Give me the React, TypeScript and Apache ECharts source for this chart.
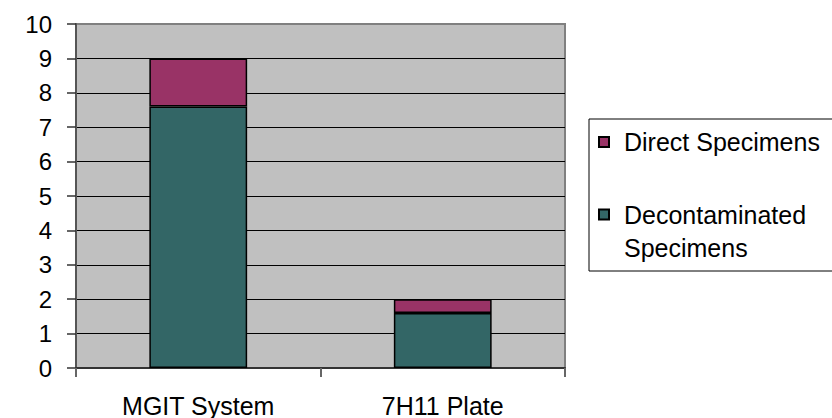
import React, { useEffect, useRef } from "react";
import * as echarts from "echarts";

const categories = ["MGIT System", "7H11 Plate"];
const decontaminated = [7.6, 1.6];
const direct = [1.4, 0.4];
const seriesNames = ["Direct Specimens", "Decontaminated Specimens"];

export default function App() {
  const ref = useRef<HTMLDivElement>(null);
  useEffect(() => {
    if (!ref.current) return;
    const chart = echarts.init(ref.current, undefined, { renderer: "svg" });
    const font = "'Liberation Sans', Arial, sans-serif";
    chart.setOption({
      animation: false,
      backgroundColor: "#ffffff",
      textStyle: { fontFamily: font },
      grid: {
        left: 76,
        right: 267,
        top: 24,
        bottom: 50,
        show: true,
        backgroundColor: "#C0C0C0",
        borderColor: "#808080",
        borderWidth: 2,
      },
      graphic: [
        {
          type: "rect",
          shape: { x: 589, y: 119, width: 260, height: 152 },
          style: { fill: "#ffffff", stroke: "#000000", lineWidth: 1 },
          z: 1,
        },
      ],
      legend: [
        {
          data: [seriesNames[0]],
          left: 598,
          top: 126,
          padding: 0,
          itemWidth: 10,
          itemHeight: 10,
          icon: "rect",
          textStyle: {
            fontFamily: font,
            fontSize: 25,
            color: "#000",
            lineHeight: 32,
            padding: [0, 0, 0, 10],
          },
          z: 5,
        },
        {
          data: [seriesNames[1]],
          left: 598,
          top: 165,
          padding: 0,
          itemWidth: 10,
          itemHeight: 10,
          icon: "rect",
          formatter: () => " \nDecontaminated\nSpecimens",
          textStyle: {
            fontFamily: font,
            fontSize: 25,
            color: "#000",
            lineHeight: 33,
            padding: [0, 0, 0, 10],
          },
          z: 5,
        },
      ],
      xAxis: {
        type: "category",
        data: categories,
        boundaryGap: true,
        axisLine: { show: true, lineStyle: { color: "#333333", width: 2 } },
        axisTick: { show: true, length: 9, lineStyle: { color: "#666666", width: 2 } },
        axisLabel: { fontFamily: font, fontSize: 25, color: "#000", margin: 25 },
        splitLine: { show: false },
      },
      yAxis: {
        type: "value",
        min: 0,
        max: 10,
        interval: 1,
        axisLine: { show: true, lineStyle: { color: "#555555", width: 2 } },
        axisTick: { show: true, length: 9, lineStyle: { color: "#333333", width: 1.5 } },
        axisLabel: { fontFamily: font, fontSize: 24, color: "#000", margin: 24 },
        splitLine: {
          show: true,
          showMinLine: false,
          showMaxLine: false,
          lineStyle: { color: "#000000", width: 1 },
        },
      },
      series: [
        {
          name: seriesNames[1],
          type: "bar",
          stack: "total",
          data: decontaminated,
          barWidth: "40%",
          itemStyle: { color: "#336666", borderColor: "#000000", borderWidth: 1.5 },
        },
        {
          name: seriesNames[0],
          type: "bar",
          stack: "total",
          data: direct,
          barWidth: "40%",
          itemStyle: { color: "#993366", borderColor: "#000000", borderWidth: 1.5 },
        },
      ],
    });
    return () => chart.dispose();
  }, []);
  return (
    <div
      ref={ref}
      style={{ position: "fixed", left: 0, top: 0, width: 832, height: 418 }}
    />
  );
}
